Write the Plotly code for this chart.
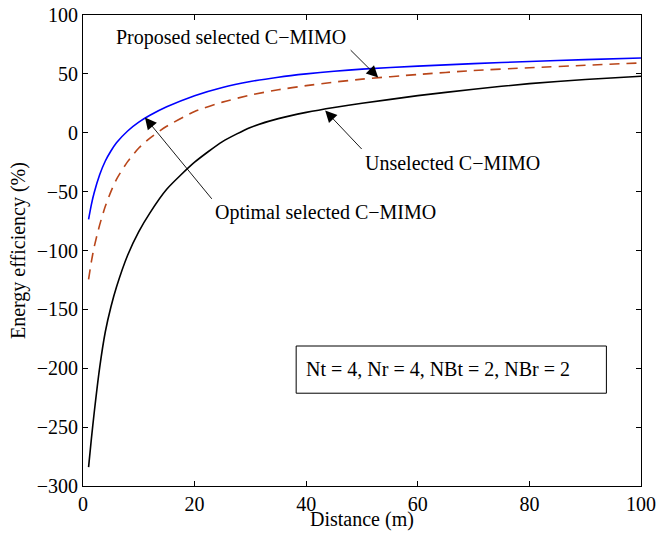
import plotly.graph_objects as go

# Distance (m)
distance = [1, 1.5, 2, 3, 4, 5, 6, 8, 10, 12, 15, 20, 25, 30, 35, 40, 45, 50, 60, 70, 80, 90, 100]

# Energy efficiency (%)
optimal_selected = [-73.5, -61, -51, -35.5, -24, -15.5, -8.5, 1.5, 9, 14.8, 22, 31.5, 38.5, 43.5,
                    47.2, 50, 52.2, 54, 56.6, 58.7, 60.5, 62.1, 63.5]
proposed_selected = [-124.6, -109.5, -97, -78, -62.5, -50, -39.5, -24.5, -13, -4.5, 5.5, 18, 26, 32,
                     36.5, 40, 43, 45.5, 49.5, 52.8, 55.2, 57.3, 59.3]
unselected = [-284, -260, -238, -199, -169, -148, -131, -104, -84, -68, -48, -25, -7.5, 4.5,
              12, 17.3, 21.5, 25, 31.5, 37, 41.7, 45.2, 48]

x_ticks = [0, 20, 40, 60, 80, 100]
y_ticks = [-300, -250, -200, -150, -100, -50, 0, 50, 100]

FONT = "Liberation Serif, Times New Roman, serif"
FS = 20

fig = go.Figure()
fig.add_trace(go.Scatter(x=distance, y=optimal_selected, mode="lines",
                         line=dict(color="#0000FF", width=1.6, shape="spline", smoothing=0.6),
                         name="Optimal selected C−MIMO"))
fig.add_trace(go.Scatter(x=distance, y=proposed_selected, mode="lines",
                         line=dict(color="#B9461A", width=1.6, dash="10px,7px", shape="spline", smoothing=0.6),
                         name="Proposed selected C−MIMO"))
fig.add_trace(go.Scatter(x=distance, y=unselected, mode="lines",
                         line=dict(color="#000000", width=1.6, shape="spline", smoothing=0.6),
                         name="Unselected C−MIMO"))

axis_common = dict(showgrid=False, zeroline=False, showline=True, linecolor="black",
                   linewidth=1, mirror="ticks", ticks="inside", ticklen=5, tickcolor="black",
                   automargin=False, ticklabeloverflow="allow",
                   tickfont=dict(family=FONT, size=FS, color="black"))

fig.update_xaxes(range=[0, 100], tickvals=x_ticks, **axis_common)
fig.update_yaxes(range=[-300, 100], tickvals=y_ticks, **axis_common)

arrow_style = dict(showarrow=True, arrowhead=2, arrowsize=2.6, arrowwidth=0.9,
                   arrowcolor="black", axref="x", ayref="y", text="")
annotations = [
    # arrows
    dict(x=52.9, y=46.9, ax=47.7, ay=71.4, **arrow_style),
    dict(x=11.1, y=13.0, ax=23.3, ay=-57.4, **arrow_style),
    dict(x=43.4, y=18.9, ax=50.2, ay=-15.1, **arrow_style),
    # labels
    dict(x=26.5, y=80.5, text="Proposed selected C−MIMO", showarrow=False,
         font=dict(family=FONT, size=FS, color="black")),
    dict(x=43.4, y=-67.5, text="Optimal selected C−MIMO", showarrow=False,
         font=dict(family=FONT, size=FS, color="black")),
    dict(x=66.2, y=-26, text="Unselected C−MIMO", showarrow=False,
         font=dict(family=FONT, size=FS, color="black")),
    dict(x=39.6, y=-201, text="Nt = 4, Nr = 4, NBt = 2, NBr = 2", showarrow=False,
         xanchor="left", font=dict(family=FONT, size=FS, color="black")),
    # axis titles
    dict(xref="paper", yref="paper", x=0.5, y=-0.072, text="Distance (m)", showarrow=False,
         xanchor="center", yanchor="middle", font=dict(family=FONT, size=FS, color="black")),
    dict(xref="paper", yref="paper", x=-0.1165, y=0.501, text="Energy efficiency (%)",
         showarrow=False, textangle=-90, xanchor="center", yanchor="middle",
         font=dict(family=FONT, size=FS, color="black")),
]

fig.add_shape(type="rect", xref="x", yref="y", x0=38.2, x1=93.8, y0=-221.2, y1=-181.1,
              line=dict(color="black", width=1), fillcolor="white", layer="below")

fig.update_layout(
    width=657, height=533,
    margin=dict(l=83, r=16, t=15, b=47),
    plot_bgcolor="white", paper_bgcolor="white",
    showlegend=False,
    annotations=annotations,
    font=dict(family=FONT, color="black"),
)

fig.write_html("out.html", config={"displayModeBar": False},
               post_script="document.body.style.margin='0';document.body.style.overflow='hidden';")
